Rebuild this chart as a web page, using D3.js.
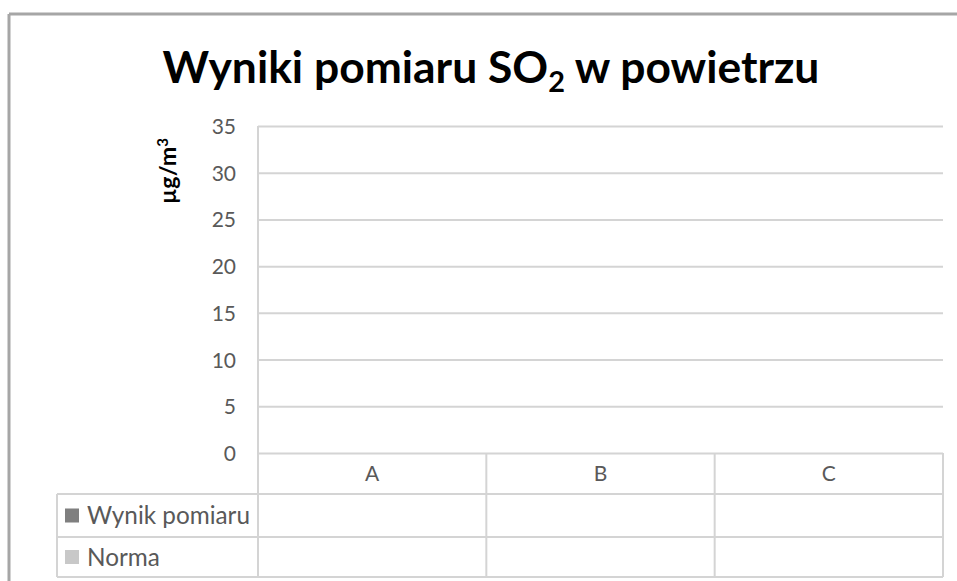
<!DOCTYPE html>
<html>
<head>
<meta charset="utf-8">
<script src="https://cdn.jsdelivr.net/npm/d3@7"></script>
<style>
  html, body { margin: 0; padding: 0; background: #fff; overflow: hidden; }
  svg { display: block; }
  text { font-family: Lato, "Open Sans", sans-serif; }
</style>
</head>
<body>
<svg id="chart" width="957" height="581"></svg>
<script>
// ---- data (the reference chart shows an empty chart: no values) ----
const categories = ["A", "B", "C"];
const seriesNames = ["Wynik pomiaru", "Norma"];
const wynikPomiaru = [null, null, null];
const norma = [null, null, null];
const yTicks = [0, 5, 10, 15, 20, 25, 30, 35];
const seriesColors = ["#7f7f7f", "#c8c8c8"];

const W = 957, H = 581;
const svg = d3.select("#chart");

// outer frame (only top and left edges are visible in the reference)
svg.append("line").attr("x1", 9).attr("x2", 9).attr("y1", 14).attr("y2", H)
  .attr("stroke", "#a6a6a6").attr("stroke-width", 3);
svg.append("line").attr("x1", 9).attr("x2", W).attr("y1", 14).attr("y2", 14)
  .attr("stroke", "#a6a6a6").attr("stroke-width", 3);

// plot geometry
const plot = { left: 258, right: 943, top: 126, bottom: 453 };
const table = { legendLeft: 57, row1: 494, row2: 537, row3: 577 };

const y = d3.scaleLinear().domain([0, 35]).range([plot.bottom, plot.top]);
const x = d3.scaleBand().domain(categories).range([plot.left, plot.right]).paddingInner(0).paddingOuter(0);
const xs = d3.scaleBand().domain(seriesNames).range([0, x.bandwidth()]).padding(0.2);

const gridColor = "#d4d4d4";

// gridlines
const grid = svg.append("g").attr("transform", `translate(${plot.left},0)`)
  .call(d3.axisLeft(y).tickValues(yTicks).tickSize(-(plot.right - plot.left)).tickFormat(""));
grid.select(".domain").remove();
grid.selectAll("line").attr("stroke", gridColor).attr("stroke-width", 2);

// y tick labels
const yAxis = svg.append("g").attr("transform", `translate(${plot.left - 22},0)`)
  .call(d3.axisLeft(y).tickValues(yTicks).tickSize(0).tickPadding(0));
yAxis.select(".domain").remove();
yAxis.selectAll("text").attr("fill", "#595959").style("font-size", "21px")
  .style("font-family", "Lato, sans-serif").attr("dy", "0.36em");

// bars (none in the reference, values are empty)
seriesNames.forEach((s, si) => {
  const vals = si === 0 ? wynikPomiaru : norma;
  svg.append("g").selectAll("rect")
    .data(categories.map((c, i) => ({ c, v: vals[i] })).filter(d => d.v != null))
    .join("rect")
    .attr("x", d => x(d.c) + xs(s)).attr("width", xs.bandwidth())
    .attr("y", d => y(d.v)).attr("height", d => y(0) - y(d.v))
    .attr("fill", seriesColors[si]);
});

// table lines
const tl = svg.append("g").attr("stroke", gridColor).attr("stroke-width", 2).attr("fill", "none");
tl.append("line").attr("x1", plot.left).attr("x2", plot.left).attr("y1", plot.top).attr("y2", table.row3);
categories.forEach(c => {
  const xr = x(c) + x.bandwidth();
  tl.append("line").attr("x1", xr).attr("x2", xr).attr("y1", plot.bottom).attr("y2", table.row3);
});
[table.row1, table.row2, table.row3].forEach(yy => {
  tl.append("line").attr("x1", table.legendLeft).attr("x2", plot.right).attr("y1", yy).attr("y2", yy);
});
tl.append("line").attr("x1", table.legendLeft).attr("x2", table.legendLeft).attr("y1", table.row1).attr("y2", table.row3);

// category labels
svg.append("g").selectAll("text").data(categories).join("text")
  .attr("x", d => x(d) + x.bandwidth() / 2).attr("y", (plot.bottom + table.row1) / 2)
  .attr("dy", "0.36em").attr("text-anchor", "middle")
  .attr("fill", "#595959").style("font-size", "21px").text(d => d);

// legend rows
const rowsY = [(table.row1 + table.row2) / 2, (table.row2 + table.row3) / 2];
const legendTexts = [];
seriesNames.forEach((s, i) => {
  svg.append("rect").attr("x", 65).attr("y", rowsY[i] - 7).attr("width", 14).attr("height", 14)
    .attr("fill", seriesColors[i]);
  legendTexts.push(svg.append("text").attr("x", 87).attr("y", rowsY[i]).attr("dy", "0.36em")
    .attr("fill", "#595959").style("font-size", "20px").text(s));
});
const lw = legendTexts[0].node().getComputedTextLength();
const lsize = 20 * 163 / lw;
legendTexts.forEach(t => t.style("font-size", lsize + "px"));

// y-axis title
const yTitle = svg.append("text").attr("transform", `translate(176,171) rotate(-90)`)
  .attr("text-anchor", "middle").attr("fill", "#000")
  .style("font-size", "17px").style("font-weight", "bold");
yTitle.append("tspan").text("µg/m");
yTitle.append("tspan").attr("dy", -6).style("font-size", "11px").text("3");
const yw = yTitle.node().getComputedTextLength();
const ys = 66 / yw;
yTitle.style("font-size", (17 * ys) + "px");
yTitle.select("tspan:nth-child(2)").style("font-size", (11 * ys) + "px").attr("dy", -6 * ys);

// chart title
const title = svg.append("text").attr("x", 491).attr("y", 83).attr("text-anchor", "middle")
  .attr("fill", "#000").style("font-weight", "bold").style("font-size", "40px");
title.append("tspan").text("Wyniki pomiaru SO");
title.append("tspan").attr("dy", 9).style("font-size", "26px").text("2");
title.append("tspan").attr("dy", -9).text(" w powietrzu");
const tw = title.node().getComputedTextLength();
const scale = 657 / tw;
title.style("font-size", (40 * scale) + "px");
title.select("tspan:nth-child(2)").style("font-size", (26 * scale) + "px");
</script>
</body>
</html>
